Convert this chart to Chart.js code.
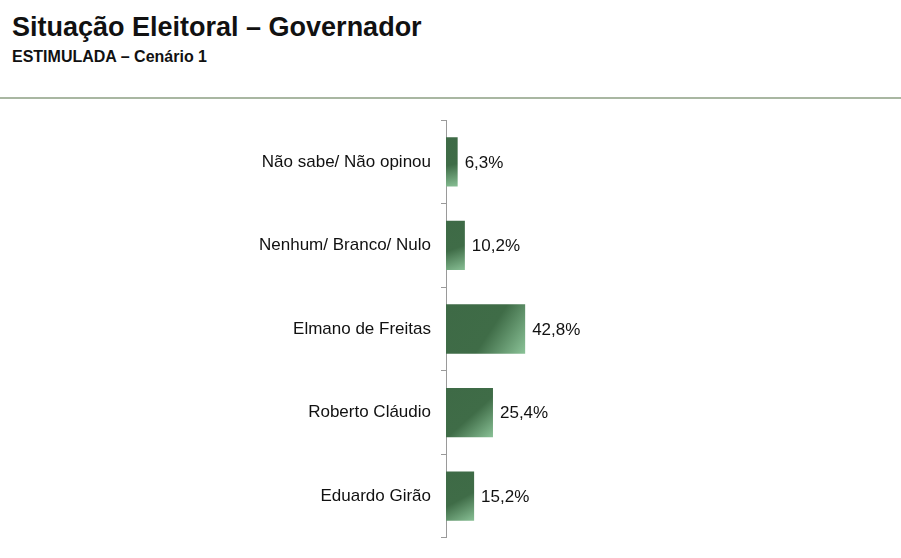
<!DOCTYPE html>
<html>
<head>
<meta charset="utf-8">
<script src="https://cdn.jsdelivr.net/npm/chart.js@4"></script>
<style>
  body { margin: 0; background: #fff; font-family: "Liberation Sans", Arial, sans-serif; width: 901px; height: 558px; overflow: hidden; position: relative; }
  #title { position: absolute; left: 12px; top: 12px; font-size: 27px; font-weight: bold; color: #111; }
  #sub { position: absolute; left: 12px; top: 48px; font-size: 16px; font-weight: bold; color: #111; }
  #rule { position: absolute; left: 0; top: 97px; width: 901px; height: 2px; background: #a9b7a2; }
  #wrap { position: absolute; left: 0; top: 100px; width: 901px; height: 458px; }
</style>
</head>
<body>
<div id="title">Situação Eleitoral – Governador</div>
<div id="sub">ESTIMULADA – Cenário 1</div>
<div id="rule"></div>
<div id="wrap"><canvas id="chart"></canvas></div>
<script>
const categories = ["Não sabe/ Não opinou", "Nenhum/ Branco/ Nulo", "Elmano de Freitas", "Roberto Cláudio", "Eduardo Girão"];
const values = [6.3, 10.2, 42.8, 25.4, 15.2];

function barGradient(context) {
    const chart = context.chart;
    const sx = chart.scales.x, sy = chart.scales.y;
    if (!chart.chartArea || !sx || !sy || context.dataIndex === undefined) return "#3f6b47";
    const i = context.dataIndex;
    const x0 = sx.getPixelForValue(0);
    const x1 = sx.getPixelForValue(values[i]);
    const yc = sy.getPixelForValue(i);
    const g = chart.ctx.createLinearGradient(x0, yc - 26, x1, yc + 26);
    g.addColorStop(0, "#3e6a46");
    g.addColorStop(0.55, "#3f6c47");
    g.addColorStop(1, "#8cc499");
    return g;
}

const valueLabels = {
    id: "valueLabels",
    afterDatasetsDraw(chart) {
        const ctx = chart.ctx;
        ctx.save();
        ctx.font = "17px 'Liberation Sans', Arial, sans-serif";
        ctx.fillStyle = "#111";
        ctx.textBaseline = "middle";
        chart.getDatasetMeta(0).data.forEach((bar, i) => {
            ctx.fillText(values[i].toFixed(1).replace(".", ",") + "%", bar.x + 7, bar.y + 1);
        });
        ctx.restore();
    }
};

new Chart(document.getElementById("chart"), {
    type: "bar",
    data: {
        labels: categories,
        datasets: [{
            data: values,
            backgroundColor: barGradient,
            barPercentage: 0.59,
            categoryPercentage: 1
        }]
    },
    options: {
        indexAxis: "y",
        responsive: true,
        maintainAspectRatio: false,
        animation: false,
        layout: { padding: { top: 10, right: 0, bottom: 0, left: 0 } },
        plugins: { legend: { display: false }, tooltip: { enabled: false } },
        scales: {
            x: { display: false, min: 0, max: 246 },
            y: {
                afterFit(scale) { scale.width = 446; },
                grid: { offset: true, drawOnChartArea: false, tickLength: 5, color: "#9a9a9a" },
                border: { color: "#9a9a9a" },
                ticks: { color: "#111", padding: 10, font: { size: 17, family: "'Liberation Sans', Arial, sans-serif" } }
            }
        }
    },
    plugins: [valueLabels]
});
</script>
</body>
</html>
